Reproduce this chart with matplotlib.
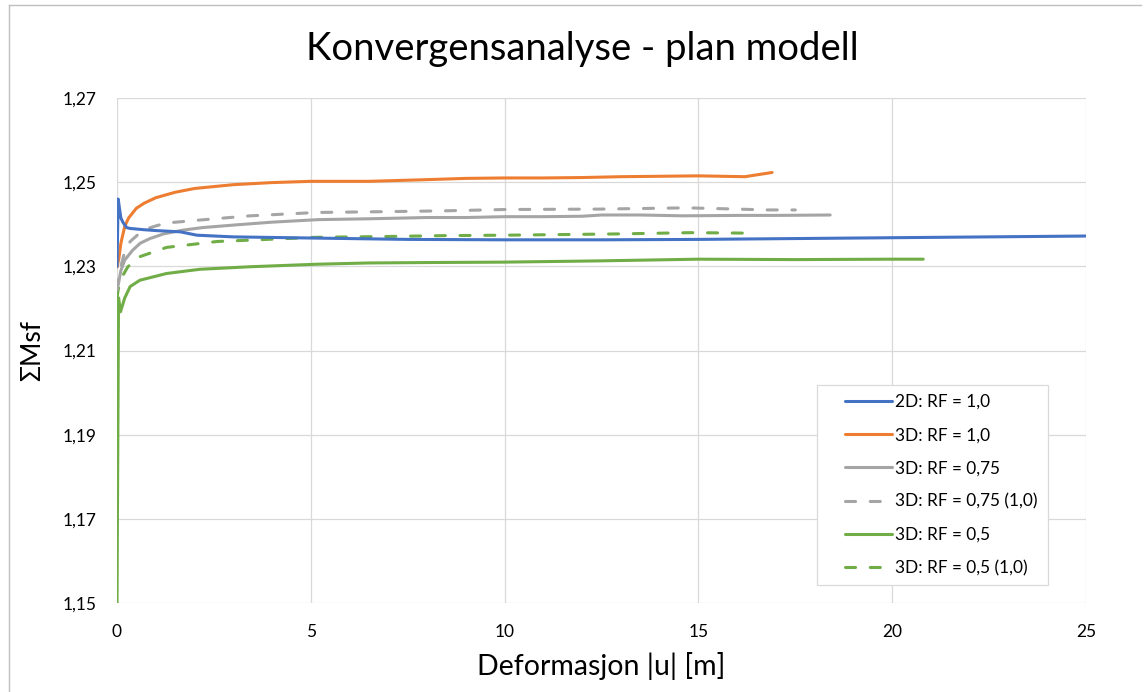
import matplotlib
matplotlib.use("Agg")
import matplotlib.pyplot as plt
from matplotlib.lines import Line2D
from matplotlib.patches import Rectangle
from matplotlib.ticker import FuncFormatter

plt.rcParams['font.family'] = ['Lato', 'DejaVu Sans']

# Series data: deformation |u| [m] versus sum Msf
x_2d_rf10 = [0, 0.03, 0.06, 0.1, 0.15, 0.25, 0.34, 0.7, 1.0, 1.63, 2.06, 3.0, 5.2, 7.5, 10, 12.5, 15, 17.5, 20, 22.5, 25]
y_2d_rf10 = [1.2300, 1.2460, 1.2440, 1.2415, 1.2405, 1.2392, 1.2390, 1.2387, 1.2385, 1.2382, 1.2374, 1.2370, 1.2367,
             1.2364, 1.2363, 1.2363, 1.2364, 1.2366, 1.2368, 1.2370, 1.2372]

x_3d_rf10 = [0, 0.05, 0.1, 0.2, 0.3, 0.5, 0.7, 1.0, 1.5, 2.0, 3.0, 4.0, 5.0, 6.5, 8, 9, 10, 11, 12, 13,
             14, 15, 16.2, 16.9]
y_3d_rf10 = [1.2298, 1.2320, 1.2355, 1.2395, 1.2415, 1.2438, 1.2450, 1.2463, 1.2476, 1.2485, 1.2494, 1.2499,
             1.2502, 1.2502, 1.2506, 1.2509, 1.2510, 1.2510, 1.2511, 1.2513, 1.2514, 1.2515, 1.2513, 1.2523]

x_3d_rf075 = [0, 0.05, 0.1, 0.2, 0.4, 0.6, 0.85, 1.2, 1.7, 2.2, 3.0, 4.0, 5.2, 6.5, 8, 9, 10, 11, 12, 12.5,
              13.5, 14.6, 16, 17, 18.4]
y_3d_rf075 = [1.2244, 1.2265, 1.2290, 1.2315, 1.2338, 1.2355, 1.2366, 1.2377, 1.2386, 1.2392, 1.2398, 1.2405,
              1.2411, 1.2413, 1.2416, 1.2416, 1.2418, 1.2418, 1.2419, 1.2422, 1.2422, 1.2420, 1.2421, 1.2421, 1.2422]

x_3d_rf075_10 = [0, 0.1, 0.2, 0.34, 0.67, 1.0, 1.28, 2.14, 3.43, 5.15, 7, 8.5, 10, 12.46, 14.7, 16, 16.8, 17.5]
y_3d_rf075_10 = [1.2245, 1.2300, 1.2335, 1.2359, 1.2386, 1.2396, 1.2403, 1.2410, 1.2420, 1.2428, 1.2430,
                 1.2432, 1.2435, 1.2436, 1.2439, 1.2436, 1.2434, 1.2434]

x_3d_rf05 = [0, 0.04, 0.09, 0.2, 0.34, 0.59, 1.28, 2.14, 3.43, 5.15, 6.5, 8, 10, 12.46, 15, 17.5, 20, 20.8]
y_3d_rf05 = [1.1500, 1.2225, 1.2192, 1.2225, 1.2252, 1.2267, 1.2283, 1.2293, 1.2299, 1.2305, 1.2308, 1.2309,
             1.2310, 1.2313, 1.2317, 1.2316, 1.2317, 1.2317]

x_3d_rf05_10 = [0, 0.03, 0.1, 0.28, 0.59, 1.28, 2.58, 3.87, 5.15, 7, 8.5, 10, 12.9, 14.8, 16.15]
y_3d_rf05_10 = [1.2225, 1.2244, 1.2270, 1.2299, 1.2323, 1.2345, 1.2359, 1.2364, 1.2369, 1.2371, 1.2373,
                1.2374, 1.2377, 1.2380, 1.2379]

x_ticks = [0, 5, 10, 15, 20, 25]
y_ticks = [1.15, 1.17, 1.19, 1.21, 1.23, 1.25, 1.27]

BLUE = '#4472C4'
ORANGE = '#ED7D31'
GREY = '#A5A5A5'
GREEN = '#70AD47'
LW = 2.2
DASH = (3.3, 4.8)

W, H = 1145, 692
fig = plt.figure(figsize=(W / 100, H / 100), dpi=100)
ax = fig.add_axes([117 / W, 1 - 603 / H, 969 / W, 505 / H])

series = [
    (x_2d_rf10, y_2d_rf10, BLUE, None, '2D: RF = 1,0'),
    (x_3d_rf10, y_3d_rf10, ORANGE, None, '3D: RF = 1,0'),
    (x_3d_rf075, y_3d_rf075, GREY, None, '3D: RF = 0,75'),
    (x_3d_rf075_10, y_3d_rf075_10, GREY, DASH, '3D: RF = 0,75 (1,0)'),
    (x_3d_rf05, y_3d_rf05, GREEN, None, '3D: RF = 0,5'),
    (x_3d_rf05_10, y_3d_rf05_10, GREEN, DASH, '3D: RF = 0,5 (1,0)'),
]

# draw in reverse so the first series sits on top
handles = []
for i, (xs, ys, col, dash, lab) in reversed(list(enumerate(series))):
    kw = dict(color=col, lw=LW, solid_capstyle='round', solid_joinstyle='round',
              dash_capstyle='round', label=lab, zorder=3 + (6 - i) * 0.1)
    if dash:
        kw['dashes'] = dash
    ln, = ax.plot(xs, ys, **kw)
    handles.insert(0, ln)

ax.set_xlim(0, 25)
ax.set_ylim(1.15, 1.27)
ax.set_xticks(x_ticks)
ax.set_yticks(y_ticks)
ax.xaxis.set_major_formatter(FuncFormatter(lambda v, p: f"{v:g}"))
ax.yaxis.set_major_formatter(FuncFormatter(lambda v, p: f"{v:.2f}".replace('.', ',')))
ax.tick_params(axis='both', length=0, labelsize=12.5, colors='#000000')
ax.tick_params(axis='y', pad=15)
ax.tick_params(axis='x', pad=15)
for s in ax.spines.values():
    s.set_visible(False)
ax.set_axisbelow(True)
ax.grid(True, color='#d9d9d9', lw=0.9)

ax.set_xlabel('Deformasjon |u| [m]', fontsize=20.5, labelpad=9)
ax.set_ylabel('ΣMsf', fontsize=19, labelpad=12)
fig.text(582 / W, 1 - 49 / H, 'Konvergensanalyse - plan modell', fontsize=27.5,
         ha='center', va='center')

# legend frame and entries
lx0, lx1 = (817 - 117) / 969, (1048 - 117) / 969
ly0, ly1 = (603 - 585) / 505, (603 - 385) / 505
ax.add_patch(Rectangle((lx0, ly0), lx1 - lx0, ly1 - ly0, transform=ax.transAxes,
                       facecolor='white', edgecolor='#d9d9d9', lw=0.9, zorder=5))
leg = ax.legend(handles=handles, loc='upper left',
                bbox_to_anchor=((845 - 117) / 969, (603 - 394) / 505),
                frameon=False, fontsize=12.4, handlelength=2.7, handletextpad=0.22,
                labelspacing=1.0, borderpad=0, borderaxespad=0)
leg.set_zorder(6)

# outer chart border
fig.add_artist(Line2D([9 / W, 9 / W], [0, 1 - 5 / H], transform=fig.transFigure, color='#bfbfbf', lw=1))
fig.add_artist(Line2D([9 / W, 1141 / W], [1 - 5 / H, 1 - 5 / H], transform=fig.transFigure, color='#bfbfbf', lw=1))

fig.savefig('out.png', dpi=100, facecolor='white')
